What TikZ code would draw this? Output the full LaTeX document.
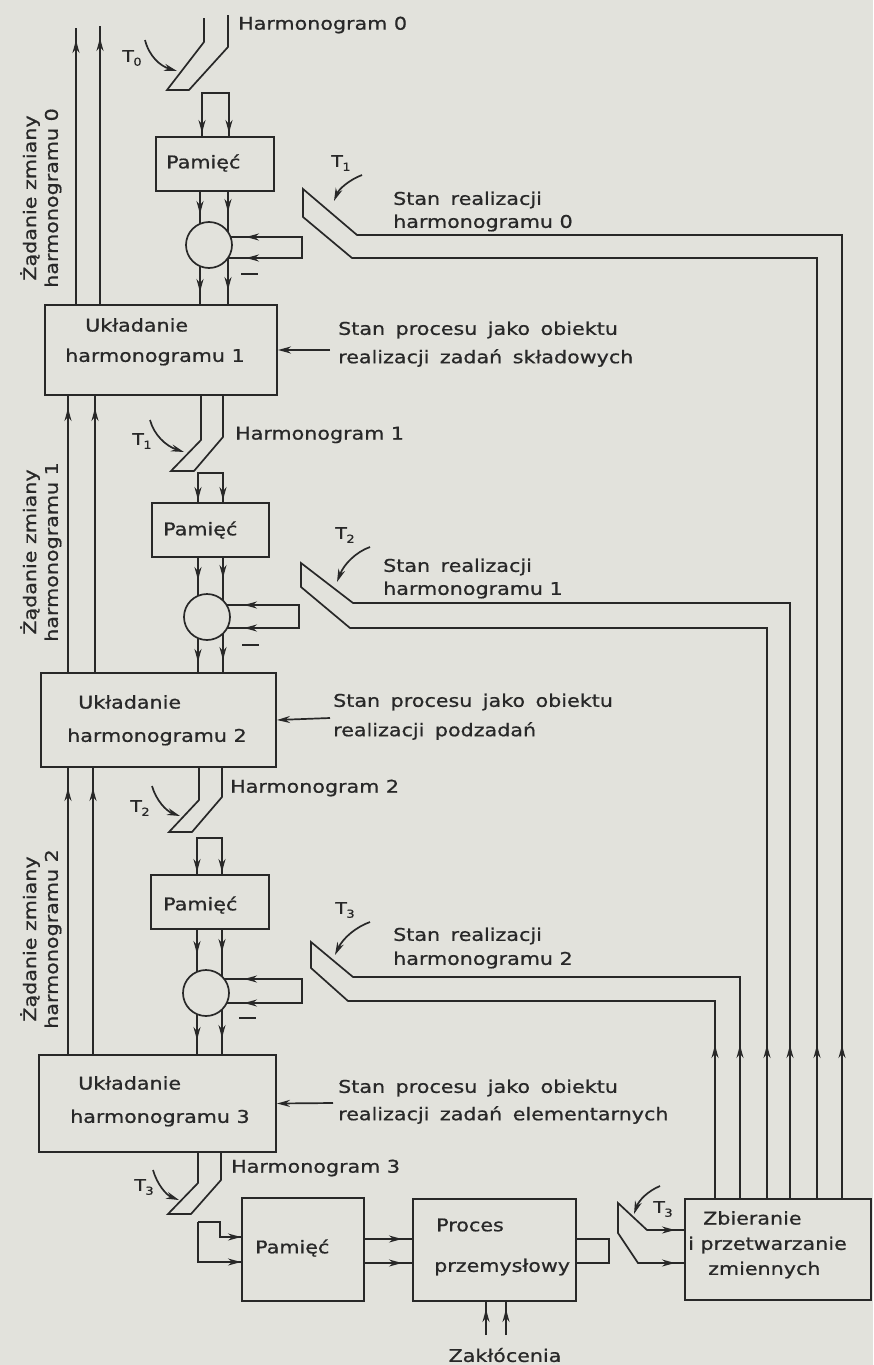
\documentclass[tikz,border=0pt]{standalone}
\usepackage{fontspec}
\setmainfont{DejaVu Sans}[FakeStretch=1.18, FakeBold=0.8]
\usetikzlibrary{arrows.meta}
\definecolor{paper}{RGB}{226,226,220}
\definecolor{ink}{RGB}{40,40,40}
\newcommand{\Tsym}[1]{T\kern-0.5pt\raisebox{-0.45ex}{\fontsize{11}{11}\selectfont #1}}
\newcommand{\widesp}{\spaceskip=0.6em plus 0.1em\relax}
\tikzset{
  ln/.style={draw=ink, line width=1.7pt, line join=miter},
  arr/.style={draw=ink, line width=1.7pt, -{Stealth[length=13pt,width=7pt]}},
  box/.style={draw=ink, line width=2pt, inner sep=0pt},
  ring/.style={circle, draw=ink, fill=paper, line width=1.7pt, minimum size=46pt, inner sep=0pt},
  lbl/.style={text=ink, inner sep=0pt, anchor=west, font=\fontsize{17.5}{20}\selectfont},
  wide/.style={lbl, execute at begin node=\widesp},
  tl/.style={text=ink, inner sep=0pt, font=\fontsize{16}{16}\selectfont},
}
\begin{document}
\begin{tikzpicture}[x=1pt,y=-1pt]
\fill[paper] (0,0) rectangle (873,1365);
\useasboundingbox (0,0) rectangle (873,1365);

% ---------------- boxes ----------------
\node[box, minimum width=118pt, minimum height=54pt] (pam1) at (215,164) {};
\node[box, minimum width=232pt, minimum height=90pt] (uk1) at (161,350) {};
\node[box, minimum width=117pt, minimum height=54pt] (pam2) at (210.5,530) {};
\node[box, minimum width=235pt, minimum height=94pt] (uk2) at (158.5,720) {};
\node[box, minimum width=118pt, minimum height=54pt] (pam3) at (210,902) {};
\node[box, minimum width=237pt, minimum height=97pt] (uk3) at (157.5,1103.5) {};
\node[box, minimum width=122pt, minimum height=103pt] (pam4) at (303,1249.5) {};
\node[box, minimum width=163pt, minimum height=102pt] (proc) at (494.5,1250) {};
\node[box, minimum width=186pt, minimum height=101pt] (zb) at (778,1249.5) {};

% ---------------- box texts ----------------
\node[lbl] at (166,163) {Pamięć};
\node[lbl] at (85,325) {Układanie};
\node[lbl] at (65,357) {harmonogramu 1};
\node[lbl] at (163,530) {Pamięć};
\node[lbl] at (78,702) {Układanie};
\node[lbl] at (67,737) {harmonogramu 2};
\node[lbl] at (163,905) {Pamięć};
\node[lbl] at (78,1083) {Układanie};
\node[lbl] at (70,1118) {harmonogramu 3};
\node[lbl] at (255,1248) {Pamięć};
\node[lbl] at (436,1225) {Proces};
\node[lbl] at (434,1267) {przemysłowy};
\node[lbl] at (703,1218) {Zbieranie};
\node[lbl] at (688,1245) {i przetwarzanie};
\node[lbl] at (708,1270) {zmiennych};

% ---------------- left request arrows ----------------
\draw[ln] (76,305) -- (76,28);
\draw[ln] (100,305) -- (100,26);
\draw[arr] (76,70) -- (76,40);
\draw[arr] (100,68) -- (100,38);
\draw[ln] (68,673) -- (68,395);
\draw[ln] (95,673) -- (95,395);
\draw[arr] (68,440) -- (68,408);
\draw[arr] (95,440) -- (95,408);
\draw[ln] (68,1055) -- (68,767);
\draw[ln] (93,1055) -- (93,767);
\draw[arr] (68,820) -- (68,788);
\draw[arr] (93,820) -- (93,788);

\node[lbl, anchor=center, rotate=90] at (30,198) {Żądanie zmiany};
\node[lbl, anchor=center, rotate=90] at (53,198) {harmonogramu 0};
\node[lbl, anchor=center, rotate=90] at (30,552) {Żądanie zmiany};
\node[lbl, anchor=center, rotate=90] at (53,552) {harmonogramu 1};
\node[lbl, anchor=center, rotate=90] at (30,939) {Żądanie zmiany};
\node[lbl, anchor=center, rotate=90] at (53,939) {harmonogramu 2};

% ---------------- level 0 ----------------
\draw[ln] (204,18) -- (204,42) -- (167,90) -- (189,90) -- (228,47) -- (228,15);
\draw[arr] (145,40) .. controls (149,56) and (160,66) .. (177,71);
\node[tl] at (132,58) {\Tsym{0}};
\node[lbl] at (238,25) {Harmonogram 0};

\draw[ln] (202,137) -- (202,93) -- (229,93) -- (229,137);
\draw[arr] (202,105) -- (202,133);
\draw[arr] (229,105) -- (229,133);

\draw[ln] (200,191) -- (200,305);
\draw[ln] (228,191) -- (228,305);
\draw[arr] (200,192) -- (200,214);
\draw[arr] (228,192) -- (228,212);
\draw[arr] (200,268) -- (200,292);
\draw[arr] (228,266) -- (228,290);
\draw[ln] (222,237) -- (302,237) -- (302,258) -- (222,258);
\draw[arr] (270,237) -- (246,237);
\draw[arr] (270,258) -- (246,258);
\node[ring] (c1) at (209,245) {};
\draw[ln] (241,274) -- (258,274);

\draw[ln] (842,1199) -- (842,235) -- (357,235) -- (303,189) -- (303,217) -- (352,258) -- (817,258) -- (817,1199);
\draw[arr] (842,1085) -- (842,1045);
\draw[arr] (817,1085) -- (817,1045);
\draw[arr] (362,175) .. controls (349,180) and (339,189) .. (334,201);
\node[tl] at (341,163) {\Tsym{1}};
\node[wide] at (393,200) {Stan realizacji};
\node[lbl] at (393,223) {harmonogramu 0};

\draw[arr] (330,350) -- (uk1.east);
\node[wide] at (338,330) {Stan procesu jako obiektu};
\node[wide] at (338,358) {realizacji zadań składowych};

% ---------------- level 1 ----------------
\draw[ln] (201,395) -- (201,440) -- (171,471) -- (194,471) -- (223,437) -- (223,395);
\draw[arr] (150,420) .. controls (154,435) and (166,446) .. (184,452);
\node[tl] at (142,441) {\Tsym{1}};
\node[lbl] at (235,435) {Harmonogram 1};

\draw[ln] (198,503) -- (198,473) -- (223,473) -- (223,503);
\draw[arr] (198,482) -- (198,500);
\draw[arr] (223,482) -- (223,500);

\draw[ln] (198,557) -- (198,673);
\draw[ln] (223,557) -- (223,673);
\draw[arr] (198,558) -- (198,580);
\draw[arr] (223,558) -- (223,578);
\draw[arr] (198,640) -- (198,662);
\draw[arr] (223,638) -- (223,660);
\draw[ln] (218,605) -- (299,605) -- (299,628) -- (218,628);
\draw[arr] (268,605) -- (244,605);
\draw[arr] (268,628) -- (244,628);
\node[ring] (c2) at (207,617) {};
\draw[ln] (242,645) -- (259,645);

\draw[ln] (790,1199) -- (790,603) -- (353,603) -- (301,563) -- (301,587) -- (350,628) -- (767,628) -- (767,1199);
\draw[arr] (790,1085) -- (790,1045);
\draw[arr] (767,1085) -- (767,1045);
\draw[arr] (370,547) .. controls (356,552) and (344,564) .. (337,582);
\node[tl] at (345,535) {\Tsym{2}};
\node[wide] at (383,567) {Stan realizacji};
\node[lbl] at (383,590) {harmonogramu 1};

\draw[arr] (330,718) -- (uk2.east);
\node[wide] at (333,702) {Stan procesu jako obiektu};
\node[wide] at (333,731) {realizacji podzadań};

% ---------------- level 2 ----------------
\draw[ln] (199,767) -- (199,800) -- (169,832) -- (192,832) -- (222,797) -- (222,767);
\draw[arr] (152,786) .. controls (156,800) and (166,811) .. (180,816);
\node[tl] at (140,808) {\Tsym{2}};
\node[lbl] at (230,788) {Harmonogram 2};

\draw[ln] (197,875) -- (197,838) -- (222,838) -- (222,875);
\draw[arr] (197,850) -- (197,872);
\draw[arr] (222,850) -- (222,872);

\draw[ln] (197,929) -- (197,1055);
\draw[ln] (222,929) -- (222,1055);
\draw[arr] (197,930) -- (197,954);
\draw[arr] (222,930) -- (222,952);
\draw[arr] (197,1016) -- (197,1040);
\draw[arr] (222,1014) -- (222,1038);
\draw[ln] (218,979) -- (302,979) -- (302,1003) -- (218,1003);
\draw[arr] (268,979) -- (244,979);
\draw[arr] (268,1003) -- (244,1003);
\node[ring] (c3) at (206,993) {};
\draw[ln] (239,1018) -- (256,1018);

\draw[ln] (740,1199) -- (740,977) -- (353,977) -- (311,942) -- (311,968) -- (348,1001) -- (715,1001) -- (715,1199);
\draw[arr] (740,1085) -- (740,1045);
\draw[arr] (715,1085) -- (715,1045);
\draw[arr] (370,922) .. controls (356,927) and (343,938) .. (335,955);
\node[tl] at (345,910) {\Tsym{3}};
\node[wide] at (393,936) {Stan realizacji};
\node[lbl] at (393,960) {harmonogramu 2};

\draw[arr] (333,1103) -- (uk3.east);
\node[wide] at (338,1088) {Stan procesu jako obiektu};
\node[wide] at (338,1115) {realizacji zadań elementarnych};

% ---------------- level 3 ----------------
\draw[ln] (198,1152) -- (198,1183) -- (168,1214) -- (191,1214) -- (221,1180) -- (221,1152);
\draw[arr] (153,1170) .. controls (157,1184) and (166,1195) .. (179,1200);
\node[tl] at (144,1187) {\Tsym{3}};
\node[lbl] at (231,1168) {Harmonogram 3};

\draw[ln] (198,1222) -- (198,1262) -- (242,1262);
\draw[ln] (198,1222) -- (220,1222) -- (220,1237) -- (242,1237);
\draw[arr] (221,1237) -- (241,1237);
\draw[arr] (218,1262) -- (241,1262);

\draw[ln] (364,1239) -- (413,1239);
\draw[ln] (364,1263) -- (413,1263);
\draw[arr] (378,1239) -- (402,1239);
\draw[arr] (378,1263) -- (402,1263);

\draw[ln] (576,1239) -- (609,1239) -- (609,1263) -- (576,1263);

\draw[ln] (486,1335) -- (486,1301);
\draw[ln] (506,1335) -- (506,1301);
\draw[arr] (486,1332) -- (486,1309);
\draw[arr] (506,1332) -- (506,1309);
\node[lbl, anchor=center] at (505,1355) {Zakłócenia};

\draw[ln] (685,1230) -- (647,1230) -- (618,1203) -- (618,1233) -- (638,1263) -- (685,1263);
\draw[arr] (653,1230) -- (675,1230);
\draw[arr] (653,1263) -- (675,1263);
\draw[arr] (660,1186) .. controls (648,1191) and (639,1200) .. (634,1214);
\node[tl] at (663,1209) {\Tsym{3}};
\end{tikzpicture}
\end{document}
